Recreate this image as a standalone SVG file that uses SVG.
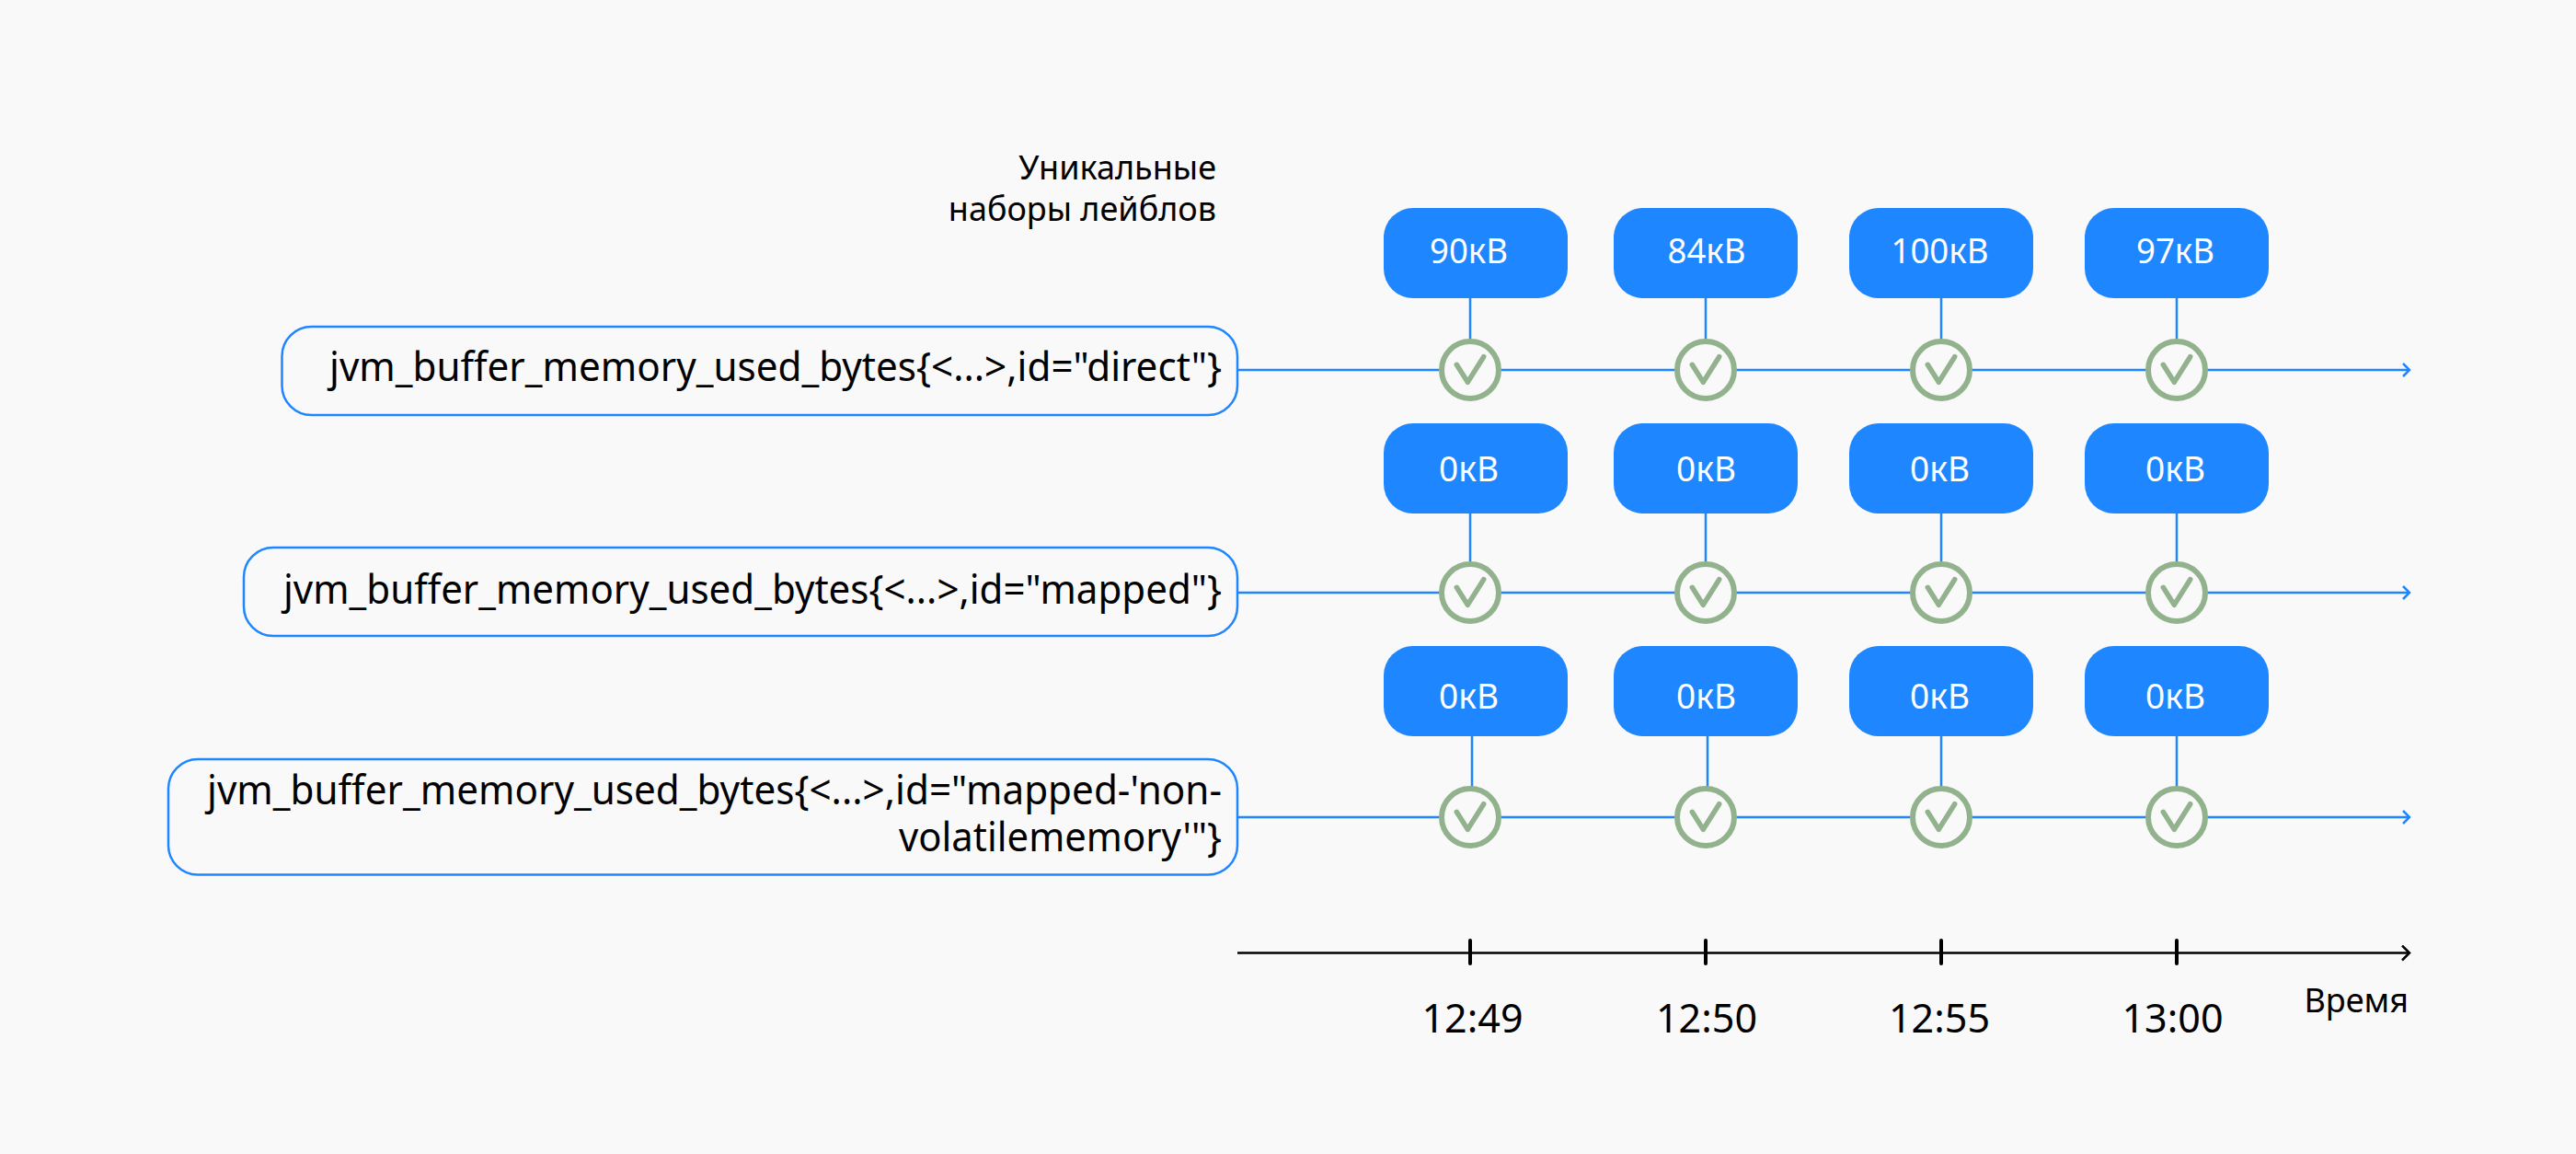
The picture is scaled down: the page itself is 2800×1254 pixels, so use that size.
<svg xmlns="http://www.w3.org/2000/svg" width="2800" height="1254" viewBox="0 0 2800 1254">
<style>
text{font-family:"Noto Sans","Open Sans","Liberation Sans",sans-serif}
.v{fill:#1e86ff}.vt{fill:#fff;font-size:38px;text-anchor:middle}
.l{fill:none;stroke:#1e86ff;stroke-width:2.5}
.lb{fill:#f9f9f9;stroke:#1e86ff;stroke-width:2.5}
.lt{fill:#000;font-size:43px;text-anchor:end}
.c{fill:#f9f9f9;stroke:#92b28d;stroke-width:6}
.k{fill:none;stroke:#92b28d;stroke-width:5.5;stroke-linecap:round;stroke-linejoin:round}
.a{fill:none;stroke:#000;stroke-width:2.5}
.t{fill:#000;stroke:#000;stroke-width:4;stroke-linecap:round}
.tt{fill:#000;font-size:44px;text-anchor:middle}
.h{fill:#000;font-size:36px;text-anchor:end}
</style>
<defs>
<g id="check"><circle class="c" r="31"/><path class="k" d="M-14.700-5.700L-2.700 13.300L14.700-14.300"/></g>
<marker id="ab" markerWidth="12" markerHeight="16" refX="9.500" refY="8" orient="auto" markerUnits="userSpaceOnUse"><path d="M2.500 1L9.500 8L2.500 15" fill="none" stroke="#1e86ff" stroke-width="2.500"/></marker>
<marker id="ak" markerWidth="12" markerHeight="18" refX="9.500" refY="9" orient="auto" markerUnits="userSpaceOnUse"><path d="M1.500 1L9.500 9L1.500 17" fill="none" stroke="#000" stroke-width="2.500"/></marker>
</defs>
<rect width="2800" height="1254" fill="#f9f9f9"/>
<g id="connectors">
<path class="l" marker-end="url(#ab)" d="M1345 402H2619"/>
<path class="l" marker-end="url(#ab)" d="M1345 644H2619"/>
<path class="l" marker-end="url(#ab)" d="M1345 888H2619"/>
<path class="l" d="M1598 324V402M1854 324V402M2110 324V402M2366 324V402M1598 558V644M1854 558V644M2110 558V644M2366 558V644M1600 800V888M1856 800V888M2110 800V888M2366 800V888"/>
</g>
<g id="header"><text class="h" x="1322" y="195">Уникальные</text><text class="h" x="1322" y="240">наборы лейблов</text></g>
<g id="label-direct"><rect class="lb" x="306.500" y="355" width="1038.500" height="96" rx="32"/><text class="lt" x="1328" y="414" textLength="970" lengthAdjust="spacingAndGlyphs">jvm_buffer_memory_used_bytes{&lt;...&gt;,id="direct"}</text></g>
<g id="label-mapped"><rect class="lb" x="265" y="595" width="1080" height="96" rx="32"/><text class="lt" x="1328" y="656" textLength="1020" lengthAdjust="spacingAndGlyphs">jvm_buffer_memory_used_bytes{&lt;...&gt;,id="mapped"}</text></g>
<g id="label-nv"><rect class="lb" x="183" y="825" width="1162" height="125.500" rx="32"/><text class="lt" x="1328" y="874" textLength="1103" lengthAdjust="spacingAndGlyphs">jvm_buffer_memory_used_bytes{&lt;...&gt;,id="mapped-'non-</text><text class="lt" x="1328" y="925" textLength="351" lengthAdjust="spacingAndGlyphs">volatilememory'"}</text></g>
<g id="r1c1"><rect class="v" x="1504" y="226" width="200" height="98" rx="32"/><text class="vt" x="1596.500" y="286" textLength="85" lengthAdjust="spacingAndGlyphs">90кВ</text></g>
<g id="r1c2"><rect class="v" x="1754" y="226" width="200" height="98" rx="32"/><text class="vt" x="1855" y="286" textLength="85" lengthAdjust="spacingAndGlyphs">84кВ</text></g>
<g id="r1c3"><rect class="v" x="2010" y="226" width="200" height="98" rx="32"/><text class="vt" x="2108.500" y="286" textLength="106" lengthAdjust="spacingAndGlyphs">100кВ</text></g>
<g id="r1c4"><rect class="v" x="2266" y="226" width="200" height="98" rx="32"/><text class="vt" x="2364.500" y="286" textLength="85" lengthAdjust="spacingAndGlyphs">97кВ</text></g>
<g id="r2c1"><rect class="v" x="1504" y="460" width="200" height="98" rx="32"/><text class="vt" x="1596.500" y="523" textLength="65" lengthAdjust="spacingAndGlyphs">0кВ</text></g>
<g id="r2c2"><rect class="v" x="1754" y="460" width="200" height="98" rx="32"/><text class="vt" x="1854.500" y="523" textLength="65" lengthAdjust="spacingAndGlyphs">0кВ</text></g>
<g id="r2c3"><rect class="v" x="2010" y="460" width="200" height="98" rx="32"/><text class="vt" x="2108.500" y="523" textLength="65" lengthAdjust="spacingAndGlyphs">0кВ</text></g>
<g id="r2c4"><rect class="v" x="2266" y="460" width="200" height="98" rx="32"/><text class="vt" x="2364.500" y="523" textLength="65" lengthAdjust="spacingAndGlyphs">0кВ</text></g>
<g id="r3c1"><rect class="v" x="1504" y="702" width="200" height="98" rx="32"/><text class="vt" x="1596.500" y="770" textLength="65" lengthAdjust="spacingAndGlyphs">0кВ</text></g>
<g id="r3c2"><rect class="v" x="1754" y="702" width="200" height="98" rx="32"/><text class="vt" x="1854.500" y="770" textLength="65" lengthAdjust="spacingAndGlyphs">0кВ</text></g>
<g id="r3c3"><rect class="v" x="2010" y="702" width="200" height="98" rx="32"/><text class="vt" x="2108.500" y="770" textLength="65" lengthAdjust="spacingAndGlyphs">0кВ</text></g>
<g id="r3c4"><rect class="v" x="2266" y="702" width="200" height="98" rx="32"/><text class="vt" x="2364.500" y="770" textLength="65" lengthAdjust="spacingAndGlyphs">0кВ</text></g>
<g id="checks">
<use href="#check" x="1598" y="402"/><use href="#check" x="1854" y="402"/><use href="#check" x="2110" y="402"/><use href="#check" x="2366" y="402"/>
<use href="#check" x="1598" y="644"/><use href="#check" x="1854" y="644"/><use href="#check" x="2110" y="644"/><use href="#check" x="2366" y="644"/>
<use href="#check" x="1598" y="888"/><use href="#check" x="1854" y="888"/><use href="#check" x="2110" y="888"/><use href="#check" x="2366" y="888"/>
</g>
<g id="axis">
<path class="a" marker-end="url(#ak)" d="M1345 1035.500H2619"/>
<path class="t" d="M1598 1022V1047M1854 1022V1047M2110 1022V1047M2366 1022V1047"/>
<text class="tt" x="1600.500" y="1122" textLength="110" lengthAdjust="spacingAndGlyphs">12:49</text><text class="tt" x="1855" y="1122" textLength="110" lengthAdjust="spacingAndGlyphs">12:50</text><text class="tt" x="2108" y="1122" textLength="110" lengthAdjust="spacingAndGlyphs">12:55</text><text class="tt" x="2361.500" y="1122" textLength="110" lengthAdjust="spacingAndGlyphs">13:00</text>
<text class="h" x="2618" y="1100">Время</text>
</g>
</svg>
